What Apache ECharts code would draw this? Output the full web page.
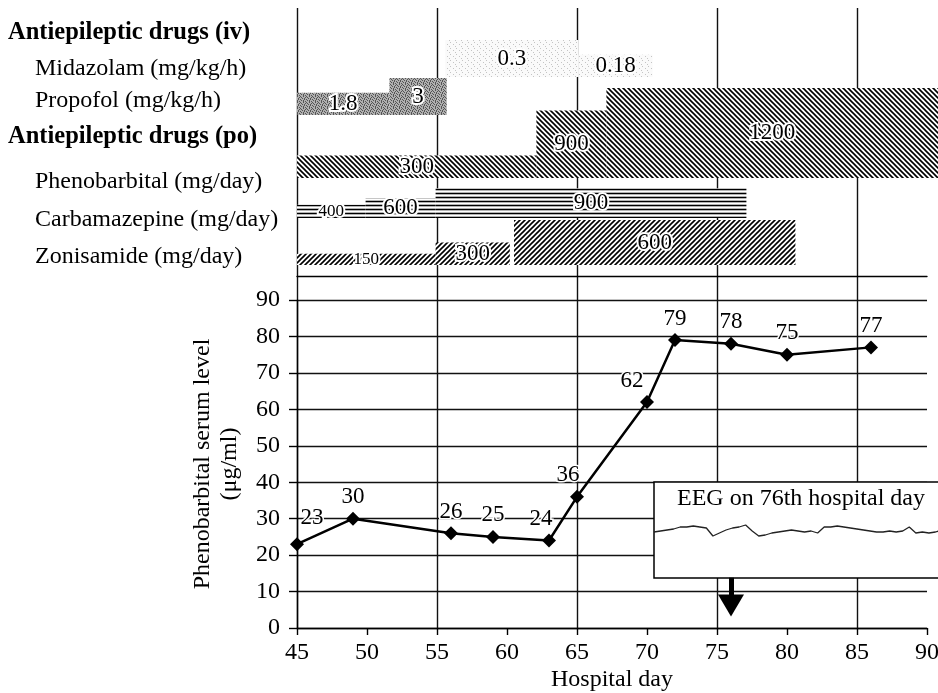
<!DOCTYPE html>
<html>
<head>
<meta charset="utf-8">
<script src="https://cdn.jsdelivr.net/npm/echarts@6/dist/echarts.min.js"></script>
<style>
  html, body { margin: 0; padding: 0; background: #fff; }
  #chart { width: 938px; height: 693px; }
</style>
</head>
<body>
<div id="chart"></div>
<script>
// rows of the drug panel, top to bottom
const rowLabels = [
  'Antiepileptic drugs (iv)',
  'Midazolam (mg/kg/h)',
  'Propofol (mg/kg/h)',
  'Antiepileptic drugs (po)',
  'Phenobarbital (mg/day)',
  'Carbamazepine (mg/day)',
  'Zonisamide (mg/day)'
];

// dosing periods: [from hospital day, to hospital day, dose]
const midazolam = [[55.6, 65.1, 0.3], [65.1, 70.4, 0.18]];
const propofol = [[45, 51.6, 1.8], [51.6, 55.7, 3]];
const phenobarbital = [[45, 62.1, 300], [62.1, 67.1, 900], [67.1, 90.8, 1200]];
const carbamazepine = [[45, 49.9, 400], [49.9, 54.9, 600], [54.9, 77.1, 900]];
const zonisamide = [[45, 54.9, 150], [54.9, 60.2, 300], [60.5, 80.6, 600]];

// phenobarbital serum level (ug/ml)
const days = [45, 49, 56, 59, 63, 65, 70, 72, 76, 80, 86];
const levels = [23, 30, 26, 25, 24, 36, 62, 79, 78, 75, 77];

// EEG inset
const eegDay = 76;
const eegTrace = [-2, -1, 0, 1, 3, 3, 4, 3, 2, -6, -3, 0, 2, 3, 5, -1, -6, -5, -3, -2, -1, 0,
  -1, -2, -1, -3, 3, 3, 4, 3, 2, 1, 0, -1, -2, -2, -1, -2, -1, 3, -3, -2, -3, -2, 0];

const serif = '"Liberation Serif", "Times New Roman", serif';

function tile(size, draw) {
  const c = document.createElement('canvas');
  c.width = size;
  c.height = size;
  const g = c.getContext('2d');
  g.fillStyle = '#fff';
  g.fillRect(0, 0, size, size);
  draw(g, size);
  return { image: c, repeat: 'repeat' };
}

function stipple(base, dot, mask) {
  return tile(mask.length, (g, s) => {
    g.fillStyle = base;
    g.fillRect(0, 0, s, s);
    g.fillStyle = dot;
    mask.forEach((line, y) => {
      for (let x = 0; x < line.length; x++) if (line[x] === '#') g.fillRect(x, y, 1, 1);
    });
  });
}

function hatch(kind) {
  const s = kind === 'horizontal' ? 4 : 5;
  return tile(s, (g) => {
    g.strokeStyle = '#000';
    g.lineWidth = 1.6;
    g.beginPath();
    if (kind === 'horizontal') {
      g.moveTo(0, 1.5); g.lineTo(s, 1.5);
    } else {
      for (const k of [-s, 0, s]) {
        if (kind === 'back') { g.moveTo(-s, -s + k); g.lineTo(2 * s, 2 * s + k); }
        else { g.moveTo(-s, 2 * s + k); g.lineTo(2 * s, -s + k); }
      }
    }
    g.stroke();
  });
}

const mask = ['#..#..', '.#...#', '..#.#.', '#...#.', '.#.#..', '...#.#'];
const sparse = ['#.....', '......', '...#..', '......', '.....#', '......'];

// baseline offset from the row centre (px), px per dose unit, fill
const rowStyle = {
  1: { base: 8.4, scale: 123, fill: stipple('#fafafa', '#c4c4c4', sparse) },
  2: { base: 8.7, scale: 12.3, fill: stipple('#b0b0b0', '#555', mask) },
  4: { base: -3.7, scale: 0.075, fill: hatch('back') },
  5: { base: -1.4, scale: 0.033, fill: hatch('horizontal') },
  6: { base: 7.9, scale: 0.075, fill: hatch('slash') }
};

const doseItems = [[1, midazolam], [2, propofol], [4, phenobarbital], [5, carbamazepine], [6, zonisamide]]
  .flatMap(([row, steps]) => steps.map((s) => [s[0], s[1], row, s[2]]));

// label nudges for the serum level points
const labelNudge = { 45: [15, -5], 63: [-8, 0], 65: [-9, 0], 70: [-15, 0] };

const chart = echarts.init(document.getElementById('chart'));

const option = {
  animation: false,
  backgroundColor: '#fff',
  textStyle: { fontFamily: serif, color: '#000' },
  grid: [
    { left: 297, right: 11, top: 12, bottom: 417, outerBoundsMode: 'none' },
    { left: 297, right: 81, top: 8, bottom: 64, outerBoundsMode: 'none' },
    { left: 297, right: 11, top: 300, bottom: 65, outerBoundsMode: 'none' },
    {
      left: 654, right: -4, top: 482, bottom: 115, outerBoundsMode: 'none',
      show: true, z: 5, backgroundColor: '#fff', borderColor: '#000', borderWidth: 1.5
    }
  ],
  xAxis: [
    {
      gridIndex: 0, type: 'value', min: 45, max: 90,
      axisLine: { show: true, lineStyle: { color: '#000', width: 1.4 } },
      axisTick: { show: false }, axisLabel: { show: false }, splitLine: { show: false }
    },
    {
      // vertical guide lines every 10 days, counted from day 45
      gridIndex: 1, type: 'value', min: 0, max: 40, interval: 10,
      axisLine: { show: false }, axisTick: { show: false }, axisLabel: { show: false },
      splitLine: { show: true, lineStyle: { color: '#111', width: 1.4 } }
    },
    {
      gridIndex: 2, type: 'value', min: 45, max: 90, interval: 5,
      name: 'Hospital day', nameLocation: 'middle', nameGap: 40,
      nameTextStyle: { fontFamily: serif, fontSize: 24, color: '#000' },
      axisLine: { show: true, lineStyle: { color: '#000', width: 1.4 } },
      axisTick: { show: true, length: 7, lineStyle: { color: '#000', width: 1.4 } },
      axisLabel: { fontFamily: serif, fontSize: 24, color: '#000', margin: 13 },
      splitLine: { show: false }
    },
    { gridIndex: 3, type: 'value', min: 0, max: eegTrace.length - 1, show: false }
  ],
  yAxis: [
    {
      gridIndex: 0, type: 'category', data: rowLabels, inverse: true,
      axisLine: { show: false }, axisTick: { show: false }, splitLine: { show: false },
      axisLabel: {
        interval: 0, align: 'left', margin: 289,
        formatter: (v, i) => {
          const key = ['h', 'n', 'np', 'hp', 'n', 'n', 'n'][i];
          return '{' + key + '|' + v + '}';
        },
        rich: {
          h: { fontFamily: serif, fontSize: 24.5, fontWeight: 'bold', color: '#000', padding: [4, 0, 0, 0] },
          hp: { fontFamily: serif, fontSize: 24.5, fontWeight: 'bold', color: '#000', padding: [0, 0, 14, 0] },
          n: { fontFamily: serif, fontSize: 24, color: '#000', padding: [0, 0, 0, 27] },
          np: { fontFamily: serif, fontSize: 24, color: '#000', padding: [0, 0, 12, 27] }
        }
      }
    },
    { gridIndex: 1, type: 'value', show: false },
    {
      gridIndex: 2, type: 'value', min: 0, max: 90, interval: 10,
      name: 'Phenobarbital serum level\n(μg/ml)', nameLocation: 'middle', nameGap: 54, nameRotate: 90,
      nameTextStyle: { fontFamily: serif, fontSize: 24, lineHeight: 27, color: '#000' },
      axisLine: { show: true, lineStyle: { color: '#000', width: 1.4 } },
      axisTick: { show: true, length: 8, lineStyle: { color: '#000', width: 1.4 } },
      axisLabel: { fontFamily: serif, fontSize: 24, color: '#000', margin: 17 },
      splitLine: { show: true, lineStyle: { color: '#111', width: 1.4 } }
    },
    { gridIndex: 3, type: 'value', min: -48, max: 48, show: false }
  ],
  graphic: [
    {
      type: 'text', x: 801, y: 499, z: 20,
      style: {
        text: 'EEG on ' + eegDay + 'th hospital day', align: 'center', verticalAlign: 'middle',
        fontFamily: serif, fontSize: 24, fill: '#000'
      }
    }
  ],
  series: [
    {
      type: 'custom',
      xAxisIndex: 0, yAxisIndex: 0,
      z: 3,
      data: doseItems,
      encode: { x: [0, 1], y: 2 },
      renderItem(params, api) {
        const row = api.value(2);
        const st = rowStyle[row];
        const a = api.coord([api.value(0), row]);
        const b = api.coord([api.value(1), row]);
        const base = a[1] + st.base;
        const h = api.value(3) * st.scale;
        return {
          type: 'group',
          children: [
            { type: 'rect', shape: { x: a[0], y: base - h, width: b[0] - a[0], height: h }, style: { fill: st.fill } },
            {
              type: 'text',
              style: {
                text: String(api.value(3)), x: (a[0] + b[0]) / 2, y: base - h / 2,
                align: 'center', verticalAlign: 'middle',
                fontFamily: serif, fontSize: h < 16 ? 17 : 23,
                fill: '#000', stroke: '#fff', lineWidth: 4
              }
            }
          ]
        };
      }
    },
    {
      type: 'line',
      xAxisIndex: 2, yAxisIndex: 2,
      data: days.map((d, i) => ({
        value: [d, levels[i]],
        label: { offset: labelNudge[d] || [0, 0] }
      })),
      symbol: 'diamond', symbolSize: 14,
      itemStyle: { color: '#000' },
      lineStyle: { color: '#000', width: 2.5 },
      label: {
        show: true, position: 'top', distance: 3,
        fontFamily: serif, fontSize: 23, color: '#000',
        textBorderColor: '#fff', textBorderWidth: 3
      },
      markLine: {
        silent: true, animation: false,
        symbol: ['none', 'triangle'], symbolSize: [26, 22],
        label: { show: false },
        lineStyle: { color: '#000', width: 5, type: 'solid' },
        data: [[{ coord: [eegDay, 13.8] }, { coord: [eegDay, 6.2] }]]
      }
    },
    {
      type: 'line',
      xAxisIndex: 3, yAxisIndex: 3,
      z: 8,
      data: eegTrace.map((v, i) => [i, v]),
      symbol: 'none',
      lineStyle: { color: '#222', width: 1.3 }
    }
  ]
};

chart.setOption(option);
</script>
</body>
</html>
